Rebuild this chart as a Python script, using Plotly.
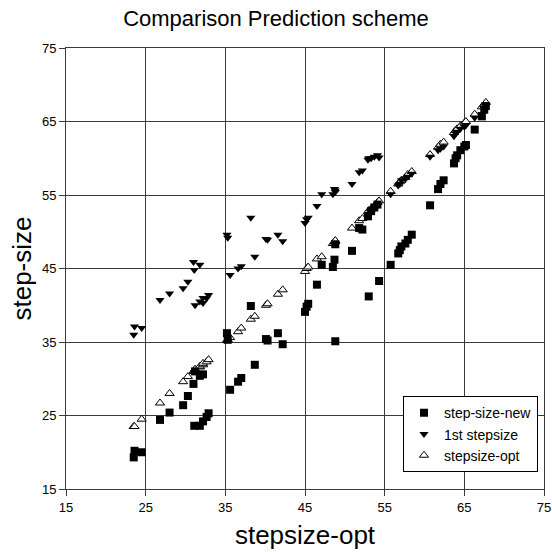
import plotly.graph_objects as go

# shared x values (stepsize-opt)
x_opt = [23.5, 23.6, 24.5, 26.8, 28.0, 29.7, 30.3, 31.0, 31.1, 31.2,
         31.8, 31.8, 32.2, 32.2, 32.65, 32.9, 35.2, 35.3, 35.6, 36.6,
         37.0, 38.2, 38.7, 40.1, 40.3, 41.6, 42.2, 45.0, 45.2, 45.4,
         46.5, 47.1, 48.5, 48.7, 48.8, 48.8, 50.9, 51.8, 52.2, 52.9,
         53.0, 53.3, 53.7, 54.1, 54.3, 55.75, 56.7, 56.9, 57.1, 57.6,
         57.9, 58.4, 60.7, 61.7, 62.0, 62.4, 63.7, 63.9, 64.1, 64.5,
         65.0, 65.2, 66.3, 67.2, 67.5, 67.7]

step_size_new = [19.3, 20.2, 20.0, 24.4, 25.4, 26.4, 27.65, 29.3, 23.6, 31.0,
                 23.6, 30.4, 24.2, 30.6, 24.8, 25.3, 36.2, 35.3, 28.5, 29.6,
                 30.1, 39.9, 31.9, 35.4, 35.2, 36.2, 34.7, 39.1, 39.8, 40.2,
                 42.8, 45.5, 45.2, 46.2, 35.1, 48.3, 47.4, 50.5, 50.3, 52.1,
                 41.2, 52.8, 53.3, 53.7, 43.3, 45.5, 47.05, 47.5, 48.0, 48.4,
                 48.9, 49.6, 53.6, 55.8, 56.5, 57.0, 59.3, 60.0, 60.4, 61.1,
                 61.6, 61.8, 63.9, 65.7, 66.6, 67.1]

first_stepsize = [36.0, 37.1, 36.9, 40.7, 41.6, 42.3, 43.2, 45.9, 44.8, 40.0,
                  45.5, 40.5, 40.3, 41.0, 40.95, 41.4, 49.6, 49.2, 44.1, 45.0,
                  45.3, 51.9, 46.6, 49.0, 48.9, 49.6, 48.7, 51.2, 51.7, 51.9,
                  53.5, 55.1, 55.1, 55.8, 55.4, 55.6, 56.5, 58.1, 58.35, 59.8,
                  60.0, 60.0, 60.2, 60.4, 60.1, 55.1, 56.3, 56.5, 57.0, 57.2,
                  57.5, 57.9, 60.2, 61.1, 61.3, 61.6, 63.0, 63.4, 63.6, 64.0,
                  64.3, 64.5, 65.5, 66.0, 66.8, 67.3]

stepsize_opt = [23.5, 23.5, 24.5, 26.7, 28.0, 29.6, 30.3, 31.0, 31.1, 31.3,
                31.6, 31.7, 31.9, 32.1, 32.3, 32.6, 35.2, 35.3, 35.6, 36.4,
                36.9, 38.1, 38.5, 40.0, 40.2, 41.5, 42.1, 44.6, 45.0, 45.2,
                46.3, 46.6, 48.4, 48.6, 48.7, 48.8, 50.5, 51.5, 51.8, 52.7,
                52.9, 53.1, 53.5, 54.0, 54.2, 55.5, 56.5, 56.8, 57.0, 57.4,
                57.8, 58.2, 60.5, 61.5, 61.9, 62.2, 63.5, 63.8, 64.0, 64.4,
                64.8, 65.0, 66.0, 67.0, 67.3, 67.6]

tick_vals = [15, 25, 35, 45, 55, 65, 75]

font_family = "Liberation Sans, Arial, sans-serif"

# draw order: open triangles at the bottom, squares, then filled down-triangles
tr_opt = go.Scatter(
    x=x_opt, y=stepsize_opt, mode="markers", name="stepsize-opt",
    marker=dict(symbol="triangle-up", size=8, color="white",
                line=dict(width=1, color="black")), legendrank=3)
tr_new = go.Scatter(
    x=x_opt, y=step_size_new, mode="markers", name="step-size-new",
    marker=dict(symbol="square", size=8, color="black", line=dict(width=0)),
    legendrank=1)
tr_first = go.Scatter(
    x=x_opt, y=first_stepsize, mode="markers", name="1st stepsize",
    marker=dict(symbol="triangle-down", size=8, color="black", line=dict(width=0)),
    legendrank=2)

fig = go.Figure([tr_opt, tr_new, tr_first])

axis_common = dict(
    range=[15, 75], tickvals=tick_vals, showgrid=True, gridcolor="#3a3a3a",
    gridwidth=1, zeroline=False, showline=True, linecolor="#3a3a3a",
    linewidth=1, mirror=True, ticks="outside", ticklen=6, tickcolor="#3a3a3a",
    tickfont=dict(family=font_family, size=13, color="black"),
    automargin=False,
)

fig.update_layout(
    width=552, height=552,
    margin=dict(l=66, r=8, t=48, b=63),
    paper_bgcolor="white", plot_bgcolor="white",
    title=dict(text="Comparison Prediction scheme", x=0.5, xanchor="center",
               y=1 - 18 / 552, yanchor="middle",
               font=dict(family=font_family, size=22, color="black")),
    xaxis=dict(axis_common, title=dict(text="stepsize-opt", standoff=12,
               font=dict(family=font_family, size=26, color="black"))),
    yaxis=dict(axis_common, title=dict(text="step-size", standoff=2,
               font=dict(family=font_family, size=26, color="black"))),
    legend=dict(x=0.705, y=0.038, xanchor="left", yanchor="bottom",
                bgcolor="white", bordercolor="black", borderwidth=1,
                font=dict(family=font_family, size=14, color="black"),
                itemsizing="trace", itemwidth=30, traceorder="normal"),
    showlegend=True,
)

fig.write_html("out.html",
               config={"displayModeBar": False},
               post_script="document.body.style.margin='0';"
                           "document.body.style.overflow='hidden';")
